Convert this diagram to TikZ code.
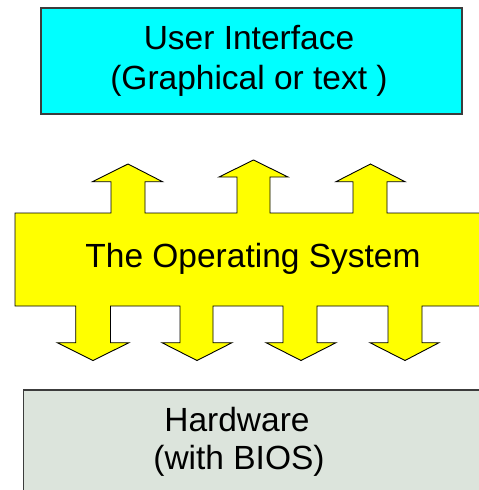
\documentclass[tikz,border=0pt]{standalone}
\usepackage{fontspec}
\setmainfont{Liberation Sans}
\definecolor{uicyan}{RGB}{0,255,255}
\definecolor{osyellow}{RGB}{255,255,0}
\definecolor{hwgray}{RGB}{220,228,220}
\definecolor{edgegray}{RGB}{60,60,60}
\begin{document}
\begin{tikzpicture}[x=1pt,y=-1pt,
  boxline/.style={draw=edgegray,line width=1.3pt},
  shapeline/.style={draw=black,line width=0.9pt,line join=miter},
  label/.style={font=\fontsize{33.5}{39}\selectfont,anchor=base,inner sep=0pt}]
\useasboundingbox (0,0) rectangle (479,490);
\clip (0,0) rectangle (479,490);
% User interface box
\path[boxline,fill=uicyan] (41,8) rectangle (462,114);
\node[label] (ui1) at (249,49.5) {User Interface};
\node[label] (ui2) at (249,89.5) {(Graphical or text )};
% Operating system shape with arrows
\path[shapeline,fill=osyellow]
  (15,213) -- (111,213) -- (111,181.7) -- (92.5,181.7) -- (128,164) -- (162.5,181.7) -- (145,181.7) -- (145,213)
  -- (237,213) -- (237,177) -- (219,177) -- (253.5,160) -- (288,177) -- (270,177) -- (270,213)
  -- (353,213) -- (353,181.7) -- (336,181.7) -- (370.5,164) -- (405,181.7) -- (387,181.7) -- (387,213)
  -- (491,213) -- (491,306)
  -- (422,306) -- (422,342.7) -- (439,342.7) -- (405,360.5) -- (370,342.7) -- (388,342.7) -- (388,306)
  -- (317,306) -- (317,342.7) -- (336,342.7) -- (301,360.5) -- (266,342.7) -- (283,342.7) -- (283,306)
  -- (213,306) -- (213,342.7) -- (232,342.7) -- (197,360.5) -- (162,342.7) -- (180,342.7) -- (180,306)
  -- (110.5,306) -- (110.5,342.7) -- (129,342.7) -- (93,360.5) -- (57.3,342.7) -- (75.7,342.7) -- (75.7,306)
  -- (15,306) -- cycle;
\node[label] (os) at (253,267) {The Operating System};
% Hardware box
\path[boxline,fill=hwgray] (23.3,390) rectangle (500,520);
\node[label] (hw1) at (237,431) {Hardware};
\node[label] (hw2) at (239,469) {(with BIOS)};
\end{tikzpicture}
\end{document}
